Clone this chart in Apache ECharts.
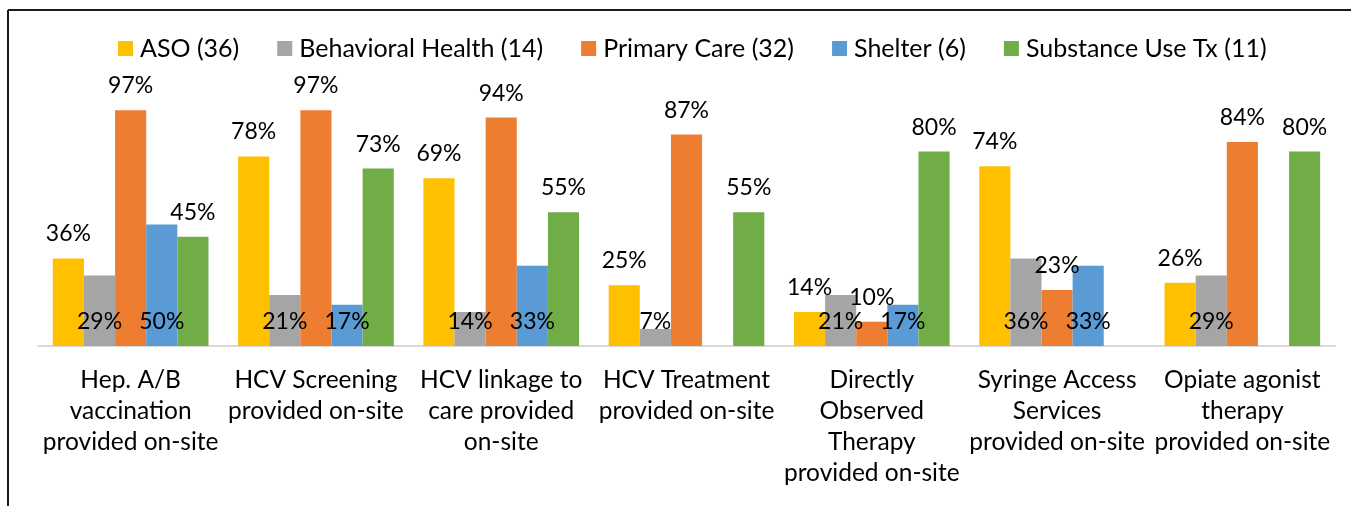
<!DOCTYPE html>
<html>
<head>
<meta charset="utf-8">
<script src="https://cdn.jsdelivr.net/npm/echarts@6/dist/echarts.min.js"></script>
<style>
html,body{margin:0;padding:0;background:#fff;}
#chart{width:1351px;height:506px;}
</style>
</head>
<body>
<div id="chart"></div>
<script>
const categories = [
  "Hep. A/B\nvaccination\nprovided on-site",
  "HCV Screening\nprovided on-site",
  "HCV linkage to\ncare provided\non-site",
  "HCV Treatment\nprovided on-site",
  "Directly\nObserved\nTherapy\nprovided on-site",
  "Syringe Access\nServices\nprovided on-site",
  "Opiate agonist\ntherapy\nprovided on-site"
];
const seriesNames = ["ASO (36)", "Behavioral Health (14)", "Primary Care (32)", "Shelter (6)", "Substance Use Tx (11)"];
const aso = [36, 78, 69, 25, 14, 74, 26];
const behavioral = [29, 21, 14, 7, 21, 36, 29];
const primary = [97, 97, 94, 87, 10, 23, 84];
const shelter = [50, 17, 33, null, 17, 33, null];
const substance = [45, 73, 55, 55, 80, null, 80];

const colors = ["#FFC000", "#A5A5A5", "#ED7D31", "#5B9BD5", "#70AD47"];
const FONT = "Lato";
const values = [aso, behavioral, primary, shelter, substance];
const labelPos = ["top", "insideBottom", "top", "insideBottom", "top"];

const chart = echarts.init(document.getElementById("chart"), null, {renderer: "canvas"});
const option = {
  animation: false,
  color: colors,
  textStyle: {fontFamily: FONT},
  legend: {
    top: 36,
    left: 118,
    padding: 0,
    itemWidth: 15,
    itemHeight: 15,
    itemGap: 38,
    icon: "rect",
    textStyle: {fontSize: 25, color: "#000", fontFamily: FONT, padding: [0, 0, 0, 2]},
    data: seriesNames
  },
  grid: {left: 38, right: 16, top: 103, bottom: 160, containLabel: false},
  xAxis: {
    type: "category",
    data: categories,
    axisLine: {lineStyle: {color: "#D9D9D9", width: 2}},
    axisTick: {show: false},
    axisLabel: {
      interval: 0,
      margin: 19,
      fontSize: 24.5,
      lineHeight: 31,
      color: "#000",
      fontFamily: FONT,
      align: "center"
    }
  },
  yAxis: {
    type: "value",
    min: 0,
    max: 100,
    show: false,
    splitLine: {show: false}
  },
  series: values.map((v, i) => ({
    name: seriesNames[i],
    type: "bar",
    data: v,
    barGap: "0%",
    barCategoryGap: "16%",
    itemStyle: {color: colors[i]},
    label: {
      show: true,
      position: labelPos[i],
      distance: 13,
      fontSize: 23,
      color: "#000",
      fontFamily: FONT,
      formatter: p => (p.value == null ? "" : p.value + "%")
    }
  })),
  graphic: [
    {type: "line", shape: {x1: 8, y1: 10, x2: 1351, y2: 10}, style: {stroke: "#1a1a1a", lineWidth: 2}},
    {type: "line", shape: {x1: 8, y1: 10, x2: 8, y2: 506}, style: {stroke: "#1a1a1a", lineWidth: 2}}
  ]
};
chart.setOption(option);
</script>
</body>
</html>
